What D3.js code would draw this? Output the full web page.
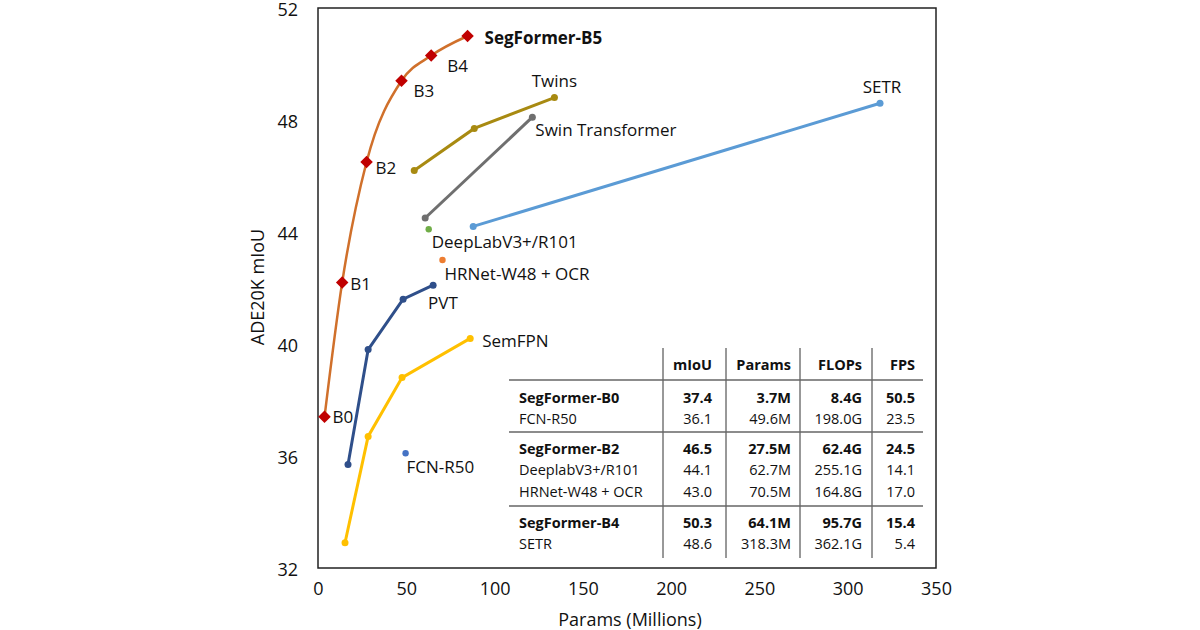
<!DOCTYPE html>
<html>
<head>
<meta charset="utf-8">
<script src="https://cdn.jsdelivr.net/npm/d3@7"></script>
<style>
  body { margin: 0; background: #fff; }
  svg text { font-family: "Open Sans", "Noto Sans", sans-serif; fill: #111; }
</style>
</head>
<body>
<svg id="chart" width="1200" height="630"></svg>
<script>
// ---- data ----
const segformerNames = ['B0', 'B1', 'B2', 'B3', 'B4', 'SegFormer-B5'];
const segformerParams = [3.7, 13.7, 27.5, 47.3, 64.1, 84.7];
const segformerMiou = [37.4, 42.2, 46.5, 49.4, 50.3, 51.0];

const twinsParams = [54.5, 88.5, 133.9];
const twinsMiou = [46.2, 47.7, 48.8];

const swinParams = [60.7, 121.4];
const swinMiou = [44.5, 48.1];

const setrParams = [87.9, 318.3];
const setrMiou = [44.2, 48.6];

const pvtParams = [17.0, 28.4, 48.2, 65.2];
const pvtMiou = [35.7, 39.8, 41.6, 42.1];

const semfpnParams = [15.3, 28.4, 47.6, 86.2];
const semfpnMiou = [32.9, 36.7, 38.8, 40.2];

const singleNames = ['DeepLabV3+/R101', 'HRNet-W48 + OCR', 'FCN-R50'];
const singleParams = [62.7, 70.5, 49.6];
const singleMiou = [44.1, 43.0, 36.1];

const xTicks = [0, 50, 100, 150, 200, 250, 300, 350];
const yTicks = [32, 36, 40, 44, 48, 52];

// table
const tableHeaders = ['mIoU', 'Params', 'FLOPs', 'FPS'];
const tableGroups = [
  [['SegFormer-B0', '37.4', '3.7M', '8.4G', '50.5'],
   ['FCN-R50', '36.1', '49.6M', '198.0G', '23.5']],
  [['SegFormer-B2', '46.5', '27.5M', '62.4G', '24.5'],
   ['DeeplabV3+/R101', '44.1', '62.7M', '255.1G', '14.1'],
   ['HRNet-W48 + OCR', '43.0', '70.5M', '164.8G', '17.0']],
  [['SegFormer-B4', '50.3', '64.1M', '95.7G', '15.4'],
   ['SETR', '48.6', '318.3M', '362.1G', '5.4']]
];

// ---- layout ----
const svg = d3.select('#chart');
const plot = {left: 318, right: 936, top: 8, bottom: 568};

const x = d3.scaleLinear().domain([0, 350]).range([plot.left, plot.right]);
const y = d3.scaleLinear().domain([32, 52]).range([plot.bottom, plot.top]);

// frame
svg.append('rect')
  .attr('x', plot.left).attr('y', plot.top)
  .attr('width', plot.right - plot.left).attr('height', plot.bottom - plot.top)
  .attr('fill', 'none').attr('stroke', '#222').attr('stroke-width', 1.5);

// axes (labels only, no tick marks)
const xAxis = svg.append('g')
  .attr('transform', `translate(0, ${plot.bottom})`)
  .call(d3.axisBottom(x).tickValues(xTicks).tickSize(0).tickPadding(14));
const yAxis = svg.append('g')
  .attr('transform', `translate(${plot.left}, 0)`)
  .call(d3.axisLeft(y).tickValues(yTicks).tickSize(0).tickPadding(20));
[xAxis, yAxis].forEach(a => {
  a.select('.domain').remove();
  a.selectAll('text').style('font-size', '18px').style('font-family', '"Open Sans", sans-serif').attr('fill', '#222');
});
yAxis.selectAll('text').attr('dy', '0.42em');

svg.append('text')
  .attr('x', (plot.left + plot.right) / 2 + 3).attr('y', 626)
  .attr('text-anchor', 'middle').style('font-size', '18px')
  .text('Params (Millions)');
svg.append('text')
  .attr('transform', `translate(264, 287) rotate(-90)`)
  .attr('text-anchor', 'middle').style('font-size', '18px')
  .text('ADE20K mIoU');

// ---- series ----
const line = d3.line().x(d => x(d[0])).y(d => y(d[1]));

function drawSeries(params, miou, color, width) {
  const pts = d3.zip(params, miou);
  svg.append('path').datum(pts)
    .attr('d', line).attr('fill', 'none')
    .attr('stroke', color).attr('stroke-width', width);
  svg.append('g').selectAll('circle').data(pts).join('circle')
    .attr('cx', d => x(d[0])).attr('cy', d => y(d[1]))
    .attr('r', 3.5).attr('fill', color);
  return pts;
}

function label(pt, text, dx, dy, anchor, bold) {
  svg.append('text')
    .attr('x', x(pt[0]) + dx).attr('y', y(pt[1]) + dy)
    .attr('dominant-baseline', 'central')
    .attr('text-anchor', anchor || 'start')
    .style('font-size', '17px')
    .style('font-weight', bold ? 'bold' : 'normal')
    .text(text);
}

const twins = drawSeries(twinsParams, twinsMiou, '#A88A11', 3);
const swin = drawSeries(swinParams, swinMiou, '#6F6F6F', 3);
const setr = drawSeries(setrParams, setrMiou, '#5B9BD5', 3);
const pvt = drawSeries(pvtParams, pvtMiou, '#2F4F8A', 3);
const semfpn = drawSeries(semfpnParams, semfpnMiou, '#FFC000', 3);

const singleColors = ['#70AD47', '#ED7D31', '#4472C4'];
svg.append('g').selectAll('circle').data(d3.zip(singleParams, singleMiou)).join('circle')
  .attr('cx', d => x(d[0])).attr('cy', d => y(d[1]))
  .attr('r', 3.2).attr('fill', (d, i) => singleColors[i]);

// SegFormer
const seg = d3.zip(segformerParams, segformerMiou);
svg.append('path').datum(seg)
  .attr('d', d3.line().curve(d3.curveMonotoneX).x(d => x(d[0])).y(d => y(d[1])))
  .attr('fill', 'none').attr('stroke', '#D0702B').attr('stroke-width', 2.5);
svg.append('g').selectAll('path').data(seg).join('path')
  .attr('d', d3.symbol(d3.symbolDiamond2, 100))
  .attr('transform', d => `translate(${x(d[0])}, ${y(d[1])})`)
  .attr('fill', '#C00000');

// labels (offsets in px)
const segOffsets = [[8, 0], [8, 1], [9, 5], [12, 10], [16, 10], [17, 1]];
seg.forEach((p, i) => label(p, segformerNames[i], segOffsets[i][0], segOffsets[i][1], 'start', i === 5));
label(twins[2], 'Twins', 0, -17, 'middle');
label(swin[1], 'Swin Transformer', 3, 12);
label(setr[1], 'SETR', 2, -17, 'middle');
label(pvt[3], 'PVT', -5, 17);
label(semfpn[3], 'SemFPN', 12, 2);
const singleOffsets = [[3, 12], [2, 13], [1, 13]];
d3.zip(singleParams, singleMiou).forEach((p, i) => label(p, singleNames[i], singleOffsets[i][0], singleOffsets[i][1]));

// ---- table ----
const tbl = svg.append('g');
const colRight = [712, 791, 862, 915];
const vLines = [663, 726, 800, 872];
const headerY = 364;
const rowH = 21.5;
const groupStarts = [397, 448, 522];
const hLines = [380, 432, 506];

vLines.forEach(vx => tbl.append('line')
  .attr('x1', vx).attr('x2', vx).attr('y1', 348).attr('y2', 558)
  .attr('stroke', '#333').attr('stroke-width', 1));
hLines.forEach(hy => tbl.append('line')
  .attr('x1', 509).attr('x2', 923).attr('y1', hy).attr('y2', hy)
  .attr('stroke', '#666').attr('stroke-width', 1.5));

tableHeaders.forEach((h, j) => tbl.append('text')
  .attr('x', colRight[j]).attr('y', headerY).attr('dominant-baseline', 'central')
  .attr('text-anchor', 'end').style('font-size', '14.5px').style('font-weight', 'bold')
  .text(h));

tableGroups.forEach((group, g) => {
  group.forEach((row, r) => {
    const ry = groupStarts[g] + r * rowH;
    const bold = r === 0;
    row.forEach((cell, c) => tbl.append('text')
      .attr('x', c === 0 ? 519 : colRight[c - 1]).attr('y', ry)
      .attr('dominant-baseline', 'central')
      .attr('text-anchor', c === 0 ? 'start' : 'end')
      .style('font-size', '14.5px').style('font-weight', bold ? 'bold' : 'normal')
      .text(cell));
  });
});
</script>
</body>
</html>
